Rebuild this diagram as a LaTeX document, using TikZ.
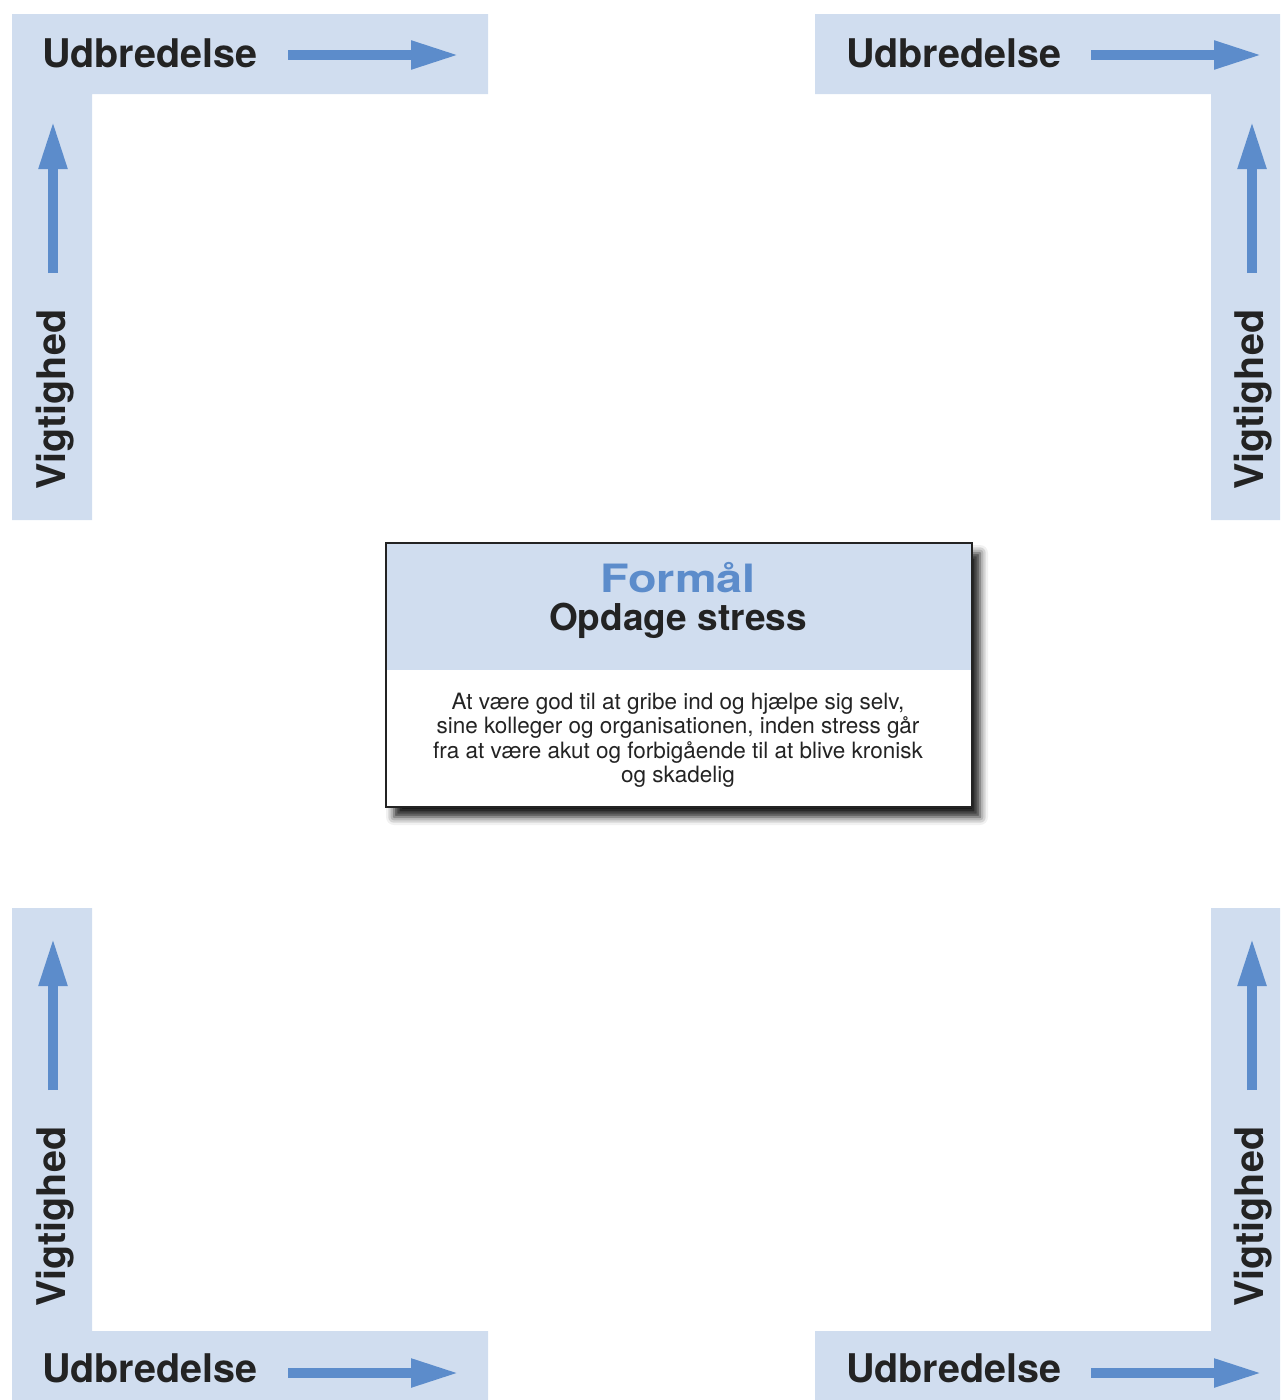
\documentclass[tikz,border=0pt]{standalone}
\usepackage{fontspec}
\setmainfont{TeX Gyre Heros}
\newfontfamily\aimfont{TeX Gyre Heros}[FakeStretch=1.2]
\usetikzlibrary{positioning,arrows.meta,shadows.blur,calc}
\definecolor{barblue}{RGB}{208,221,239}
\definecolor{arrowblue}{RGB}{92,140,203}
\definecolor{inkdark}{RGB}{35,35,35}
\tikzstyle{bar}=[fill=barblue]
\tikzstyle{growarrow}=[draw=arrowblue,line width=10.5pt,-{Triangle[length=49pt,width=26pt]}]
\tikzstyle{axislabel}=[text=inkdark,inner sep=0pt,font=\bfseries\fontsize{39.5}{44}\selectfont]
\newcommand{\hArrow}[3]{\coordinate (#1a) at (#2,#3); \coordinate (#1b) at (#2+172,#3);
  \draw[growarrow] (#1a) -- (#1b);}
\newcommand{\vArrow}[3]{\coordinate (#1a) at (#2,#3); \coordinate (#1b) at (#2,#3-153);
  \draw[growarrow] (#1a) -- (#1b);}

\begin{document}
\begin{tikzpicture}[x=1pt,y=-1pt]
    \useasboundingbox (0,0) rectangle (1280,1400);
    % corner bars
    \fill[bar] (12,14) -- (488,14) -- (488,94) -- (92,94) -- (92,520) -- (12,520) -- cycle;
    \fill[bar] (815,14) -- (1280,14) -- (1280,520) -- (1211,520) -- (1211,94) -- (815,94) -- cycle;
    \fill[bar] (12,908) -- (92,908) -- (92,1331) -- (488,1331) -- (488,1400) -- (12,1400) -- cycle;
    \fill[bar] (1211,908) -- (1280,908) -- (1280,1400) -- (815,1400) -- (815,1331) -- (1211,1331) -- cycle;
    % labels
    \node[axislabel,anchor=base west] (u1) at (42,67) {Udbredelse};
    \node[axislabel,anchor=base west] (u2) at (846,67) {Udbredelse};
    \node[axislabel,anchor=base west] (u3) at (42,1382) {Udbredelse};
    \node[axislabel,anchor=base west] (u4) at (846,1382) {Udbredelse};
    \node[axislabel,rotate=90,anchor=base west] (v1) at (65,490) {Vigtighed};
    \node[axislabel,rotate=90,anchor=base west] (v2) at (1263,490) {Vigtighed};
    \node[axislabel,rotate=90,anchor=base west] (v3) at (65,1307) {Vigtighed};
    \node[axislabel,rotate=90,anchor=base west] (v4) at (1263,1307) {Vigtighed};
    % arrows
    \hArrow{h1}{288}{55}
    \hArrow{h2}{1091}{55}
    \hArrow{h3}{288}{1373}
    \hArrow{h4}{1091}{1373}
    \vArrow{g1}{53}{273}
    \vArrow{g2}{1252}{273}
    \vArrow{g3}{53}{1090}
    \vArrow{g4}{1252}{1090}
    % goal box
    \node[fill=white,minimum width=586pt,minimum height=264pt,inner sep=0pt,outer sep=0pt,
      blur shadow={shadow xshift=8pt,shadow yshift=-10pt,shadow blur radius=8pt,shadow opacity=90}]
      (goal) at (679,675) {};
    \fill[bar] (goal.north west) rectangle ($(goal.north east)+(0,127)$);
    \draw[inkdark,line width=2.5pt] (goal.north west) rectangle (goal.south east);
    \node[anchor=base,text=arrowblue,inner sep=0pt,font=\aimfont\bfseries\fontsize{39}{44}\selectfont]
      (aim) at (678,592) {Formål};
    \node[anchor=base,text=inkdark,inner sep=0pt,font=\bfseries\fontsize{37}{42}\selectfont]
      (title) at (678,630) {Opdage stress};
    \node[text=inkdark,align=center,inner sep=0pt,font=\fontsize{22.5}{24.5}\selectfont]
      (body) at (678,740) {At være god til at gribe ind og hjælpe sig selv,\\
      sine kolleger og organisationen, inden stress går\\
      fra at være akut og forbigående til at blive kronisk\\
      og skadelig};
  \end{tikzpicture}
\end{document}
